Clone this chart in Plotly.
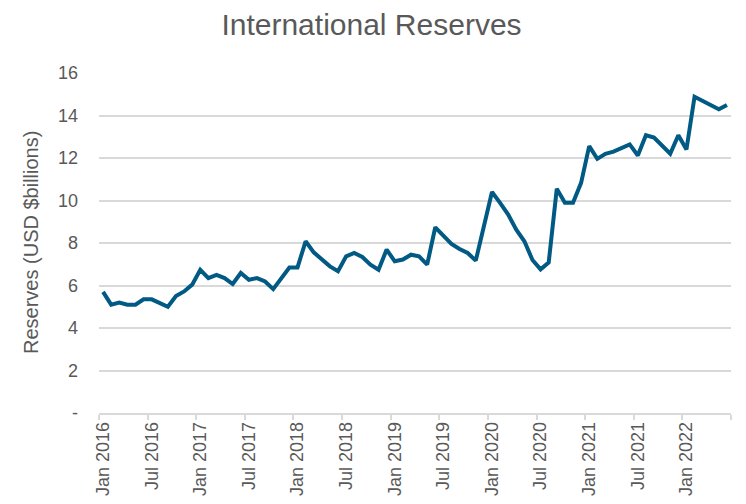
import plotly.graph_objects as go

# Monthly international reserves, USD billions, Jan 2016 - Jun 2022
start_year = 2016
month_names = ["Jan", "Feb", "Mar", "Apr", "May", "Jun",
               "Jul", "Aug", "Sep", "Oct", "Nov", "Dec"]
reserves = [
    5.70, 5.10, 5.20, 5.10, 5.10, 5.35, 5.35, 5.20, 5.00, 5.50, 5.72, 6.04,
    6.74, 6.35, 6.50, 6.35, 6.07, 6.59, 6.27, 6.35, 6.19, 5.83, 6.35, 6.85,
    6.85, 8.08, 7.56, 7.25, 6.90, 6.67, 7.37, 7.53, 7.34, 6.98, 6.74, 7.69,
    7.14, 7.22, 7.45, 7.37, 6.98, 8.74, 8.35, 7.96, 7.72, 7.53, 7.17, 8.76,
    10.40, 9.89, 9.34, 8.63, 8.08, 7.20, 6.76, 7.08, 10.55, 9.89, 9.89, 10.83,
    12.56, 11.96, 12.20, 12.30, 12.48, 12.64, 12.12, 13.07, 12.96, 12.59, 12.20, 13.07,
    12.40, 14.88, 14.68, 14.50, 14.29, 14.50,
]
months = [f"{month_names[i % 12]} {start_year + i // 12}" for i in range(len(reserves))]
y_ticks = [0, 2, 4, 6, 8, 10, 12, 14, 16]
y_tick_text = ["-" if v == 0 else str(v) for v in y_ticks]

idx = list(range(len(reserves)))
label_step = 6
x_tickvals = idx[::label_step]
x_ticktext = months[::label_step]

gray = "#595959"
grid = "#d9d9d9"
font_family = "Liberation Sans, Arial, sans-serif"

# page body adds an 8px offset; figure is sized to fill the rest of the window
W, H = 738, 496

fig = go.Figure()
fig.add_trace(go.Scatter(
    x=idx, y=reserves, mode="lines",
    line=dict(color="#005a84", width=4),
    hoverinfo="skip", showlegend=False,
))

fig.update_layout(
    width=W, height=H,
    margin=dict(l=91, r=15, t=65, b=91),
    paper_bgcolor="white", plot_bgcolor="white",
    font=dict(family=font_family, color=gray, size=18),
    title=dict(text="International Reserves", x=363.5 / W, xref="container",
               xanchor="center", y=1 - 16 / H, yref="container",
               yanchor="middle",
               font=dict(size=30, color=gray, family=font_family)),
    annotations=[dict(
        text="Reserves (USD $billions)", textangle=-90,
        xref="paper", yref="paper", x=(23 - 91) / 632, y=0.5,
        xanchor="center", yanchor="middle", showarrow=False,
        font=dict(size=20, color=gray, family=font_family),
    )],
)
fig.update_xaxes(
    range=[-0.5, len(reserves) - 0.5], automargin=False,
    tickmode="array", tickvals=x_tickvals, ticktext=x_ticktext,
    tickangle=-90, ticks="", showgrid=False,
    showline=True, linecolor=grid, linewidth=1.5,
    tickfont=dict(size=18, color=gray),
    minor=dict(tickmode="linear", tick0=-0.5, dtick=label_step,
               ticks="outside", ticklen=5, tickcolor=grid, tickwidth=1.5,
               showgrid=False),
    zeroline=False,
)
fig.update_yaxes(
    range=[0, 16], automargin=False,
    tickmode="array", tickvals=y_ticks, ticktext=y_tick_text,
    showgrid=True, gridcolor=grid, gridwidth=1.5,
    zeroline=False, showline=False, ticks="",
    ticklabelstandoff=20,
    tickfont=dict(size=18, color=gray),
)

fig.write_html("out.html")
